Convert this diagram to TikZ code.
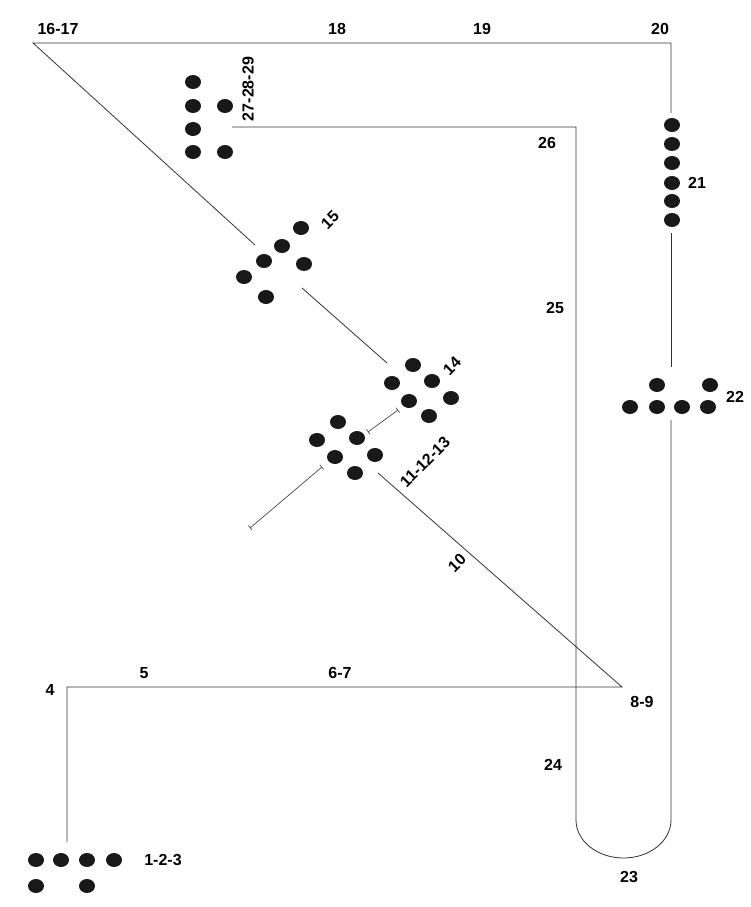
\documentclass[tikz,border=0pt]{standalone}
\usepackage{fontspec}
\setmainfont{Liberation Sans}
\usetikzlibrary{positioning, calc, arrows.meta}
\tikzset{
  num/.style={font=\bfseries\fontsize{16}{16}\selectfont, inner sep=0pt},
  traccia/.style={line width=0.8pt, black!80},
  piede/.style={black!90}
}
\begin{document}
\begin{tikzpicture}[x=1pt,y=-1pt]
        \useasboundingbox (0,0) rectangle (750,907);
        %punti del percorso
        \coordinate (p1) at (67,842);
        \coordinate (p4) at (67,687);
        \coordinate (p8) at (622,687);
        \coordinate (p10) at (378,473);
        \coordinate (p14a) at (387,363);
        \coordinate (p15a) at (302,288);
        \coordinate (p15b) at (255,245);
        \coordinate (p16) at (33,43);
        \coordinate (p20) at (671,43);
        \coordinate (p21a) at (671,113);
        \coordinate (p21b) at (671,233);
        \coordinate (p22a) at (671,367);
        \coordinate (p22b) at (671,420);
        \coordinate (p23) at (671,820);
        \coordinate (p24) at (576,820);
        \coordinate (p26) at (576,127);
        \coordinate (p27) at (232,127);
        %linee
        \draw[traccia] (p1) -- (p4) -- (p8) -- (p10);
        \draw[traccia] (p14a) -- (p15a);
        \draw[traccia] (p15b) -- (p16) -- (p20) -- (p21a);
        \draw[traccia] (p21b) -- (p22a);
        \draw[traccia] (p22b) -- (p23)
          arc[start angle=0, end angle=-180, x radius=47.5pt, y radius=38pt]
          -- (p26) -- (p27);
        %segmenti con barre
        \coordinate (b1) at (368,432);
        \coordinate (b2) at (398,410);
        \coordinate (b3) at (322,467);
        \coordinate (b4) at (250,528);
        \draw[traccia, line width=0.6pt, {Bar[width=6pt]}-{Bar[width=6pt]}] (b1) -- (b2);
        \draw[traccia, line width=0.6pt, {Bar[width=6pt]}-{Bar[width=6pt]}] (b3) -- (b4);
        %piedi
        \foreach \x/\y in {36/860,61/860,87/860,114/860,36/886,87/886,
          338/422,317/440,357/438,335/457,375/455,355/473,
          413/365,392/383,432/381,409/401,451/398,429/416,
          301/228,282/246,264/261,244/277,304/264,266/297,
          193/82,193/106,193/129,193/152,225/106,225/152,
          672/125,672/144,672/163,672/183,672/201,672/220,
          657/385,710/385,630/407,657/407,682/407,708/407} {
        \fill[piede] (\x,\y) ellipse [x radius=8pt, y radius=7pt];}
        %numeri
        \node[num] (n123) at (163,860) {1-2-3};
        \node[num] (n4) at (50,690) {4};
        \node[num] (n5) at (144,673) {5};
        \node[num] (n67) at (340,673) {6-7};
        \node[num] (n89) at (642,702) {8-9};
        \node[num, rotate=45] (n10) at (457,563) {10};
        \node[num, rotate=45] (n111213) at (425,462) {11-12-13};
        \node[num, rotate=45] (n14) at (452,366) {14};
        \node[num, rotate=45] (n15) at (330,220) {15};
        \node[num] (n1617) at (58,29) {16-17};
        \node[num] (n18) at (337,29) {18};
        \node[num] (n19) at (482,29) {19};
        \node[num] (n20) at (660,29) {20};
        \node[num] (n21) at (697,183) {21};
        \node[num] (n22) at (735,397) {22};
        \node[num] (n23) at (629,877) {23};
        \node[num] (n24) at (553,765) {24};
        \node[num] (n25) at (555,308) {25};
        \node[num] (n26) at (547,143) {26};
        \node[num, rotate=90] (n272829) at (248,89) {27-28-29};
    \end{tikzpicture}
\end{document}
